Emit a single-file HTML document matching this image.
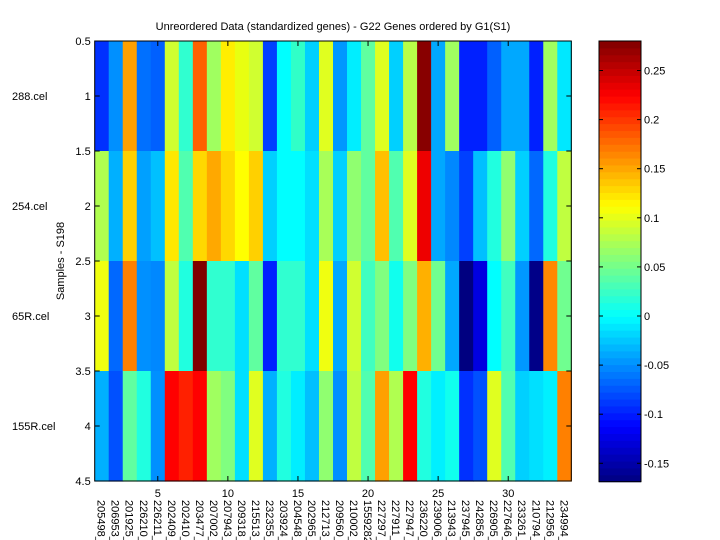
<!DOCTYPE html>
<html><head><meta charset="utf-8"><style>
html,body{margin:0;padding:0;background:#fff}
svg{display:block;font-family:"Liberation Sans",Arial,sans-serif}
</style></head><body>
<svg id="s" width="720" height="540" viewBox="0 0 720 540" xmlns="http://www.w3.org/2000/svg">
<rect width="720" height="540" fill="#fff"/>
<g id="cells"></g>
<g id="cb"></g>
<g id="ax" fill="none" stroke="#000" stroke-width="1"></g>
<g id="txt" font-size="11" fill="#000"></g>
<text x="333" y="30" font-size="11" text-anchor="middle">Unreordered Data (standardized genes) - G22 Genes ordered by G1(S1)</text>
<text transform="translate(64,261) rotate(-90)" font-size="11" text-anchor="middle">Samples - S198</text>
</svg>
<script>
var rows=[
["0030ff","0090ff","ffa000","0070ff","0060ff","d0ff30","30ffd0","ff6000","a0ff60","ffee00","e8ff10","d0ff30","0040ff","00ffff","30ffc8","00d0ff","e0ff20","0098ff","00eeff","60ffa0","e0ff20","00d0ff","b8ff48","880000","00a8ff","a0ff60","0020ff","0020ff","0060ff","00a8ff","00a8ff","0020ff","a0ff60","00e8ff"],
["b0ff50","00b0ff","ffd000","00a0ff","00c0ff","ffe800","50ffb0","ffd800","ffa800","ffd800","ffff00","ffd000","00d0ff","00ffff","00ffff","00e0ff","a8ff58","00d0ff","90ff70","60ffa0","ffc000","50ffb0","e0ff20","ee0000","00a8ff","0088ff","0040ff","00c0ff","20ffe0","90ff70","00d0ff","0068ff","20ffe0","c0ff40"],
["f0ff10","0068ff","ff8000","0090ff","0088ff","c0ff40","20ffe0","800000","30ffd0","30ffd0","00e0ff","60ffa0","0020ff","30ffd0","30ffd0","00e0ff","f0ff10","00a8ff","d0ff30","40ffc0","80ff80","10ffee","80ff80","ffb000","70ff90","00a8ff","000080","0000e0","00ffff","40ffc0","0098ff","000088","ff8800","70ff90"],
["00b0ff","0050ff","60ffa0","20ffe0","0090ff","ff0000","ff2000","ff0000","a0ff60","80ff80","00e0ff","e0ff20","00b0ff","20ffe0","00eeff","00c0ff","90ff70","0090ff","c0ff40","50ffb0","ffa000","b0ff50","ff0000","20ffe0","00f0ff","10ffee","0030ff","0050ff","e0ff20","50ffb0","00d0ff","00e0ff","00f0ff","ff8000"]];
var NS="http://www.w3.org/2000/svg";
function el(p,t,a,txt){var e=document.createElementNS(NS,t);for(var k in a)e.setAttribute(k,a[k]);if(txt!=null)e.textContent=txt;p.appendChild(e);return e;}
var L=94.7,R=571.3,T=41,B=481,cw=(R-L)/34,rh=(B-T)/4;
var g=document.getElementById('cells');
rows.forEach(function(r,i){r.forEach(function(c,j){el(g,'rect',{x:L+j*cw,y:T+i*rh,width:cw+0.6,height:rh+0.6,fill:'#'+c});});});
// colorbar jet 64
function jet(v){var r=Math.min(4*v-1.5,-4*v+4.5),gg=Math.min(4*v-0.5,-4*v+3.5),b=Math.min(4*v+0.5,-4*v+2.5);function c(x){return Math.round(255*Math.max(0,Math.min(1,x)));}return 'rgb('+c(r)+','+c(gg)+','+c(b)+')';}
var cb=document.getElementById('cb'),cL=599,cR=641,cT=41,cB=481.7,n=64,h=(cB-cT)/n;
for(var i=0;i<n;i++){el(cb,'rect',{x:cL,y:cB-(i+1)*h,width:cR-cL,height:h+0.5,fill:jet((i+0.5)/n)});}
var ax=document.getElementById('ax'),tx=document.getElementById('txt');
el(ax,'rect',{x:L,y:T,width:R-L,height:B-T});
el(ax,'rect',{x:cL,y:cT,width:cR-cL,height:cB-cT});
// y ticks
for(var k=0;k<=8;k++){var y=T+k*rh/2;el(ax,'line',{x1:L,y1:y,x2:L+5,y2:y});el(ax,'line',{x1:R,y1:y,x2:R-5,y2:y});
el(tx,'text',{x:L-4,y:y+4,'text-anchor':'end'},String(0.5+k*0.5));}
var names=["288.cel","254.cel","65R.cel","155R.cel"];
names.forEach(function(s,i){el(tx,'text',{x:12,y:T+(i+0.5)*rh+4},s);});
// x ticks
for(var v=5;v<=30;v+=5){var x=L+(v-0.5)*cw;el(ax,'line',{x1:x,y1:B,x2:x,y2:B-5});el(ax,'line',{x1:x,y1:T,x2:x,y2:T+5});
el(tx,'text',{x:x,y:497,'text-anchor':'middle'},String(v));}
var genes=["205498_","206953_","201925_","226210_","226211_","202409_","202410_","203477_","207002_","207943_","209318_","215513_","232355_","203924_","204548_","202965_","212713_","209560_","210002_","1559282_","227297_","227911_","227947_","236220_","239006_","213943_","237945_","242856_","226905_","227646_","233261_","210794_","212956_","234994_"];
genes.forEach(function(s,j){var x=L+(j+0.5)*cw;el(tx,'text',{transform:'translate('+(x-4)+',500) rotate(90)'},s);});
// colorbar ticks
for(var v=-0.15;v<=0.2501;v+=0.05){var y=316-v/0.05*49.1;el(ax,'line',{x1:cL,y1:y,x2:cL+4,y2:y});el(ax,'line',{x1:cR,y1:y,x2:cR-4,y2:y});
var lab=Math.abs(v)<1e-9?"0":(Math.round(v*100)/100).toString();el(tx,'text',{x:cR+3,y:y+4},lab);}
</script>
</body></html>
